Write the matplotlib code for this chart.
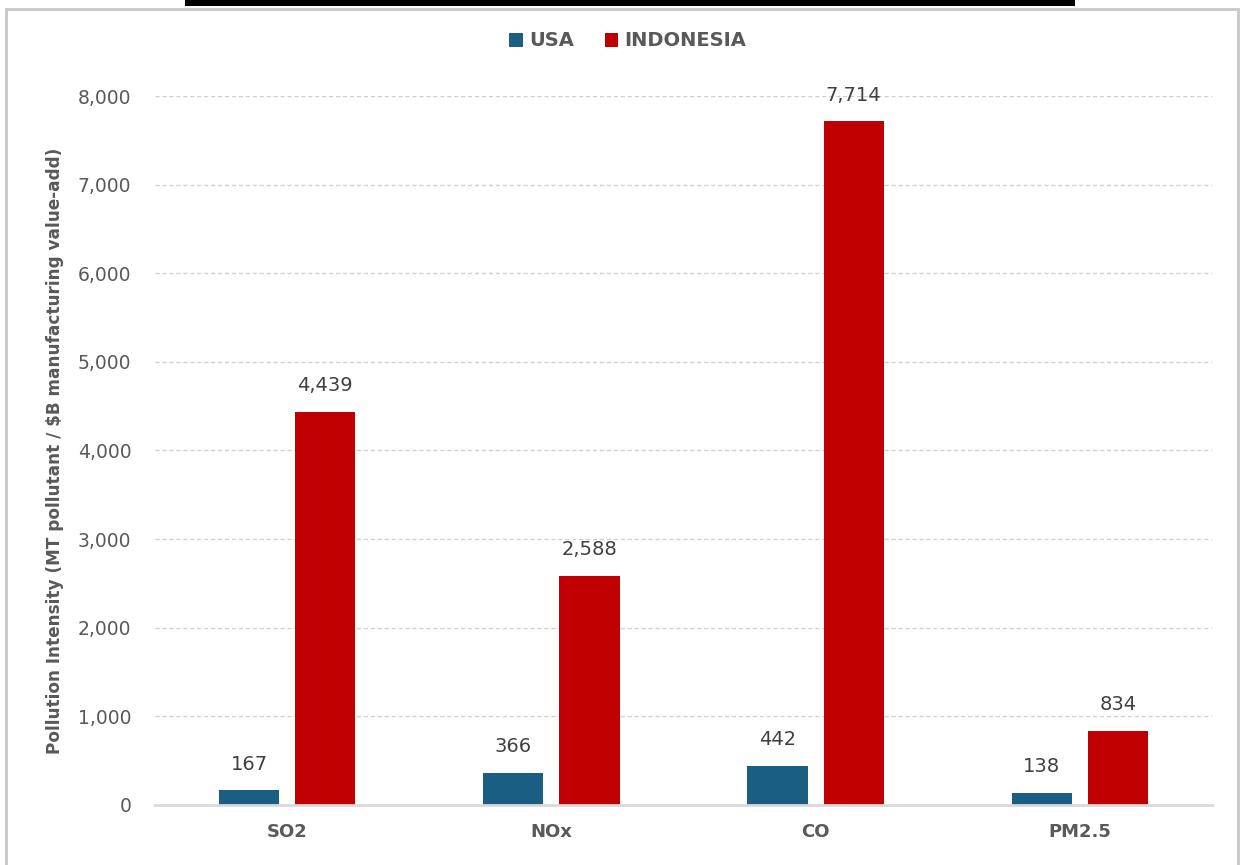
import matplotlib.pyplot as plt
import numpy as np
from matplotlib.patches import Rectangle
from matplotlib.ticker import FuncFormatter

pollutants = ["SO2", "NOx", "CO", "PM2.5"]
usa = [167, 366, 442, 138]
indonesia = [4439, 2588, 7714, 834]

USA_COLOR = "#1b5e83"
IDN_COLOR = "#c00000"
TEXT = "#595959"
NARROW = ["DejaVu Sans Condensed", "Liberation Sans Narrow", "DejaVu Sans"]

fig = plt.figure(figsize=(12.43, 8.65), dpi=100)
ax = fig.add_axes([0.1247, 0.0694, 0.8503, 0.8196])

x = np.arange(len(pollutants))
w = 0.228
off = 0.144
b1 = ax.bar(x - off, usa, w, color=USA_COLOR, label="USA", zorder=3)
b2 = ax.bar(x + off, indonesia, w, color=IDN_COLOR, label="INDONESIA", zorder=3)

for bars, vals in ((b1, usa), (b2, indonesia)):
    for bar, v in zip(bars, vals):
        ax.annotate(f"{v:,}", (bar.get_x() + bar.get_width() / 2, v),
                    xytext=(0, 12), textcoords="offset points",
                    ha="center", va="bottom", fontsize=14, color="#404040")

ax.set_xlim(-0.5, len(pollutants) - 0.5)
ax.set_ylim(0, 8000)
ax.set_yticks(range(0, 8001, 1000))
ax.yaxis.set_major_formatter(FuncFormatter(lambda v, p: f"{int(v):,}"))
ax.set_xticks(x)
ax.set_xticklabels(pollutants, fontweight="bold", fontsize=13, color=TEXT)
ax.tick_params(axis="y", labelsize=13.5, labelcolor=TEXT, length=0, pad=17)
ax.tick_params(axis="x", length=0, pad=13)

ax.grid(axis="y", color="#d0d0d0", linestyle=(0, (3, 2)), linewidth=1, zorder=0)
for s in ("top", "right", "left"):
    ax.spines[s].set_visible(False)
ax.spines["bottom"].set_color("#d9d9d9")
ax.spines["bottom"].set_linewidth(2)
ax.spines["bottom"].set_zorder(4)

ax.set_ylabel("Pollution Intensity (MT pollutant / $B manufacturing value-add)",
              fontsize=12.2, fontweight="bold", color=TEXT, family=NARROW, labelpad=10)

fig.legend(handles=[b1, b2], loc="center", bbox_to_anchor=(0.505, 1 - 41 / 865),
           ncol=2, frameon=False, handlelength=0.7, handleheight=0.7,
           handletextpad=0.3, columnspacing=1.6,
           prop={"family": NARROW, "weight": "bold", "size": 14},
           labelcolor=TEXT)

# outer chart frame and the clipped title band above it
fig.patches.append(Rectangle((6 / 1243, -0.05), 1232 / 1243, 1.05 - 9 / 865,
                             transform=fig.transFigure, fill=False,
                             edgecolor="#c8c8c8", linewidth=2))
fig.patches.append(Rectangle((185 / 1243, 1 - 6 / 865), 890 / 1243, 6 / 865,
                             transform=fig.transFigure, facecolor="black",
                             edgecolor="none"))

fig.savefig("out.png", dpi=100)
